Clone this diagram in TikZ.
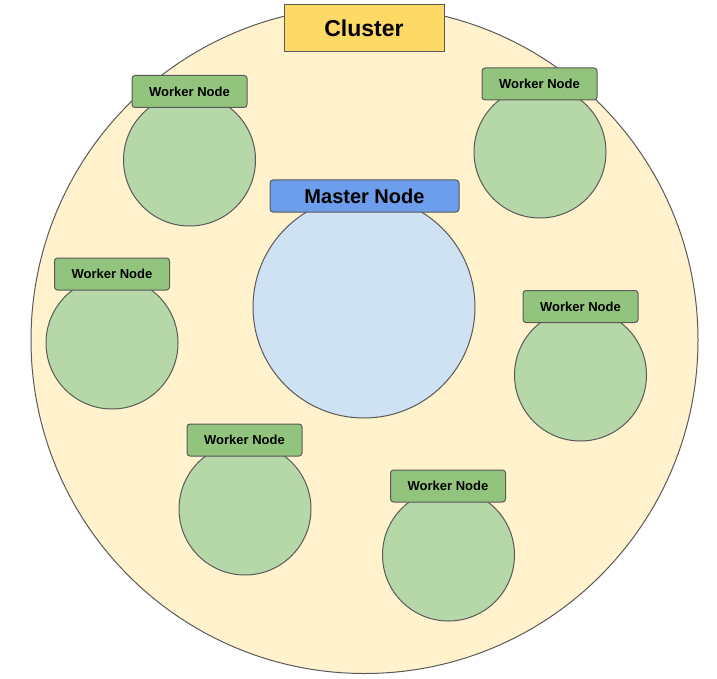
\documentclass[tikz,border=0pt]{standalone}
\usepackage{fontspec}
\setmainfont{Liberation Sans}
\definecolor{clusterbg}{HTML}{FFF2CC}
\definecolor{clusterlbl}{HTML}{FFD966}
\definecolor{masterbg}{HTML}{CFE2F3}
\definecolor{masterlbl}{HTML}{6D9EEB}
\definecolor{workerbg}{HTML}{B6D7A8}
\definecolor{workerlbl}{HTML}{93C47D}
\definecolor{edge}{HTML}{595959}
\begin{document}
\begin{tikzpicture}[x=1pt,y=-1pt,
  line width=1pt,
  workercirc/.style={circle,draw=edge,fill=workerbg,minimum size=132pt,inner sep=0pt},
  workerlabel/.style={rectangle,rounded corners=3pt,draw=edge,fill=workerlbl,minimum width=115pt,minimum height=32pt,inner sep=0pt,font=\bfseries\fontsize{13}{15}\selectfont},
]
\useasboundingbox (0,0) rectangle (717,679);
\node[circle,draw=edge,fill=clusterbg,minimum size=667pt,inner sep=0pt] (cluster) at (364.5,340) {};
\node[rectangle,draw=edge,fill=clusterlbl,minimum width=160pt,minimum height=47pt,inner sep=0pt,font=\bfseries\fontsize{23}{26}\selectfont] (clusterlabel) at (364,28.5) {Cluster};
\node[circle,draw=edge,fill=masterbg,minimum size=222pt,inner sep=0pt] (master) at (364,307) {};
\node[rectangle,rounded corners=3pt,draw=edge,fill=masterlbl,minimum width=189pt,minimum height=32pt,inner sep=0pt,font=\bfseries\fontsize{20}{24}\selectfont] (masterlabel) at (364.5,196) {Master Node};
% workers
\node[workercirc] (w1) at (189.5,160) {};
\node[workerlabel] (w1l) at (189.5,91.5) {Worker Node};
\node[workercirc] (w2) at (540,152) {};
\node[workerlabel] (w2l) at (539.5,84) {Worker Node};
\node[workercirc] (w3) at (112,343) {};
\node[workerlabel] (w3l) at (112,274) {Worker Node};
\node[workercirc] (w4) at (580.5,375) {};
\node[workerlabel] (w4l) at (580.5,306.5) {Worker Node};
\node[workercirc] (w5) at (245,509) {};
\node[workerlabel] (w5l) at (244.5,440) {Worker Node};
\node[workercirc] (w6) at (448.5,555) {};
\node[workerlabel] (w6l) at (448,486) {Worker Node};
\end{tikzpicture}
\end{document}
